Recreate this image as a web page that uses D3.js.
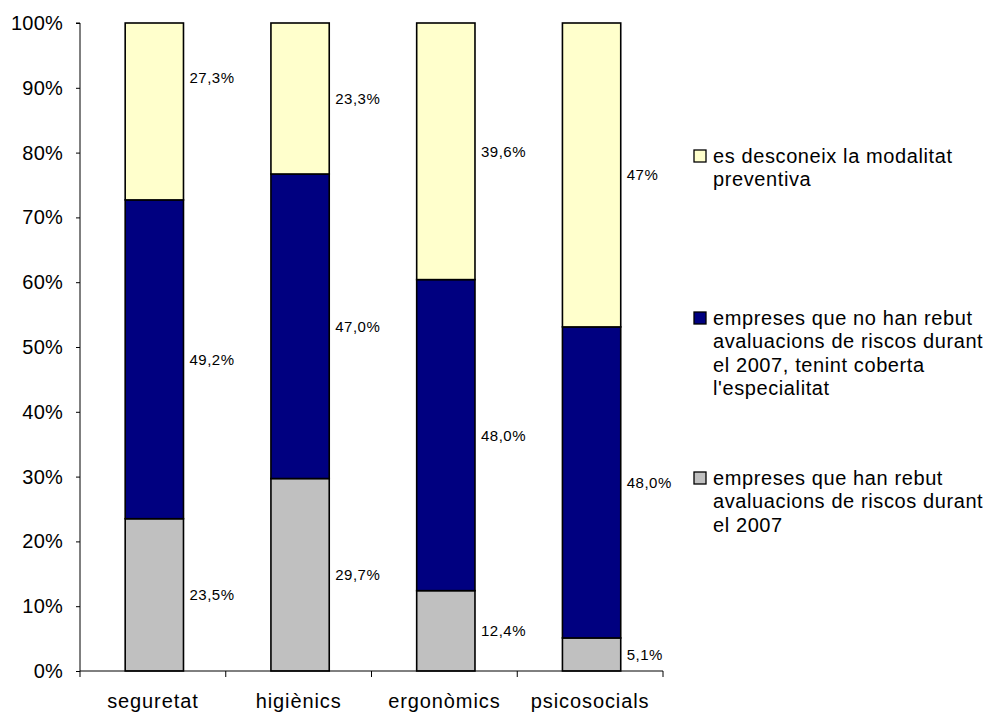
<!DOCTYPE html>
<html>
<head>
<meta charset="utf-8">
<script src="https://cdn.jsdelivr.net/npm/d3@7"></script>
<style>
  html, body { margin: 0; padding: 0; background: #fff; }
  svg { display: block; font-family: "Liberation Sans", Arial, sans-serif; }
</style>
</head>
<body>
<svg id="chart" width="996" height="712"></svg>
<script>
// Risk-assessment coverage by speciality (shares of companies, %)
const categories = ["seguretat", "higiènics", "ergonòmics", "psicosocials"];
const rebut      = [23.5, 29.7, 12.4, 5.1];   // received assessments in 2007
const noRebut    = [49.2, 47.0, 48.0, 48.0];  // no assessment, speciality covered
const desconeix  = [27.3, 23.3, 39.6, 47.0];  // preventive modality unknown
const desconeixDecimals = [1, 1, 1, 0];
const yTicks = [0, 10, 20, 30, 40, 50, 60, 70, 80, 90, 100];

const series = [
  { key: "rebut", values: rebut, color: "#C0C0C0",
    legend: ["empreses que han rebut", "avaluacions de riscos durant", "el 2007"] },
  { key: "noRebut", values: noRebut, color: "#000080",
    legend: ["empreses que no han rebut", "avaluacions de riscos durant", "el 2007, tenint coberta", "l'especialitat"] },
  { key: "desconeix", values: desconeix, color: "#FFFFCC",
    legend: ["es desconeix la modalitat", "preventiva"] }
];

const svg = d3.select("#chart");
const plot = { left: 80, right: 663, top: 23, bottom: 671 };

const x = d3.scaleBand().domain(categories).range([plot.left, plot.right]).padding(0);
const y = d3.scaleLinear().domain([0, 100]).range([plot.bottom, plot.top]);

const barOffset = x.bandwidth() * 0.31;
const barWidth = x.bandwidth() * 0.40;

// stacked segments
const rows = categories.map((c, i) => ({ cat: c, rebut: rebut[i], noRebut: noRebut[i], desconeix: desconeix[i] }));
const stack = d3.stack().keys(series.map(s => s.key))(rows);

// one manually nudged label (value units), otherwise labels sit at segment centres
const labelNudge = { "desconeix|seguretat": 5.2 };

stack.forEach((layer, si) => {
  const s = series[si];
  const g = svg.append("g");
  g.selectAll("rect").data(layer).enter().append("rect")
    .attr("x", d => x(d.data.cat) + barOffset)
    .attr("y", d => y(Math.min(d[1], 100)))
    .attr("width", barWidth)
    .attr("height", d => y(d[0]) - y(Math.min(d[1], 100)))
    .attr("fill", s.color)
    .attr("stroke", "#000")
    .attr("stroke-width", 1.6);

  g.selectAll("text").data(layer).enter().append("text")
    .attr("x", d => x(d.data.cat) + barOffset + barWidth + 6)
    .attr("y", d => {
      const mid = (d[0] + Math.min(d[1], 100)) / 2 + (labelNudge[s.key + "|" + d.data.cat] || 0);
      return y(mid);
    })
    .attr("dy", "0.36em")
    .attr("font-size", 15)
    .attr("letter-spacing", 0.5)
    .attr("fill", "#000")
    .text((d, i) => {
      const v = s.values[i];
      const dec = s.key === "desconeix" ? desconeixDecimals[i] : 1;
      return v.toFixed(dec).replace(".", ",") + "%";
    });
});

// y axis
const yAxis = svg.append("g")
  .attr("transform", `translate(${plot.left},0)`)
  .call(d3.axisLeft(y).tickValues(yTicks).tickFormat(d => d + "%").tickSize(4).tickPadding(13));
yAxis.select(".domain").attr("stroke", "#000").attr("d", `M-4,${plot.top}H0V${plot.bottom}`);
yAxis.selectAll(".tick line").attr("stroke", "#000");
yAxis.selectAll(".tick text").attr("font-size", 20).attr("letter-spacing", 0.2)
  .attr("font-family", "Liberation Sans, Arial, sans-serif").attr("fill", "#000");

// x axis: labels centred in bands, tick marks on category boundaries
const xAxis = svg.append("g")
  .attr("transform", `translate(0,${plot.bottom})`)
  .call(d3.axisBottom(x).tickSize(0).tickPadding(23));
xAxis.select(".domain").attr("stroke", "#000").attr("d", `M${plot.left},0H${plot.right}`);
xAxis.selectAll(".tick text").attr("font-size", 20).attr("letter-spacing", 0.9)
  .attr("font-family", "Liberation Sans, Arial, sans-serif").attr("fill", "#000");
const bounds = categories.map(c => x(c)).concat([x(categories[categories.length - 1]) + x.bandwidth()]);
xAxis.selectAll("line.bound").data(bounds).enter().append("line")
  .attr("class", "bound")
  .attr("x1", d => d).attr("x2", d => d)
  .attr("y1", 0).attr("y2", 6)
  .attr("stroke", "#000");

// legend, listed top-down in reverse stacking order
const legendTops = [156, 318, 478];
const legendSeries = series.slice().reverse();
const lg = svg.append("g");
legendSeries.forEach((s, i) => {
  const cy = legendTops[i];
  lg.append("rect")
    .attr("x", 694).attr("y", cy - 6)
    .attr("width", 12).attr("height", 12)
    .attr("fill", s.color).attr("stroke", "#000").attr("stroke-width", 1.3);
  const t = lg.append("text")
    .attr("x", 713).attr("y", cy + 7)
    .attr("font-size", 20).attr("letter-spacing", 0.6).attr("fill", "#000");
  s.legend.forEach((line, li) => {
    t.append("tspan").attr("x", 713).attr("dy", li === 0 ? 0 : 23.4).text(line);
  });
});
</script>
</body>
</html>
